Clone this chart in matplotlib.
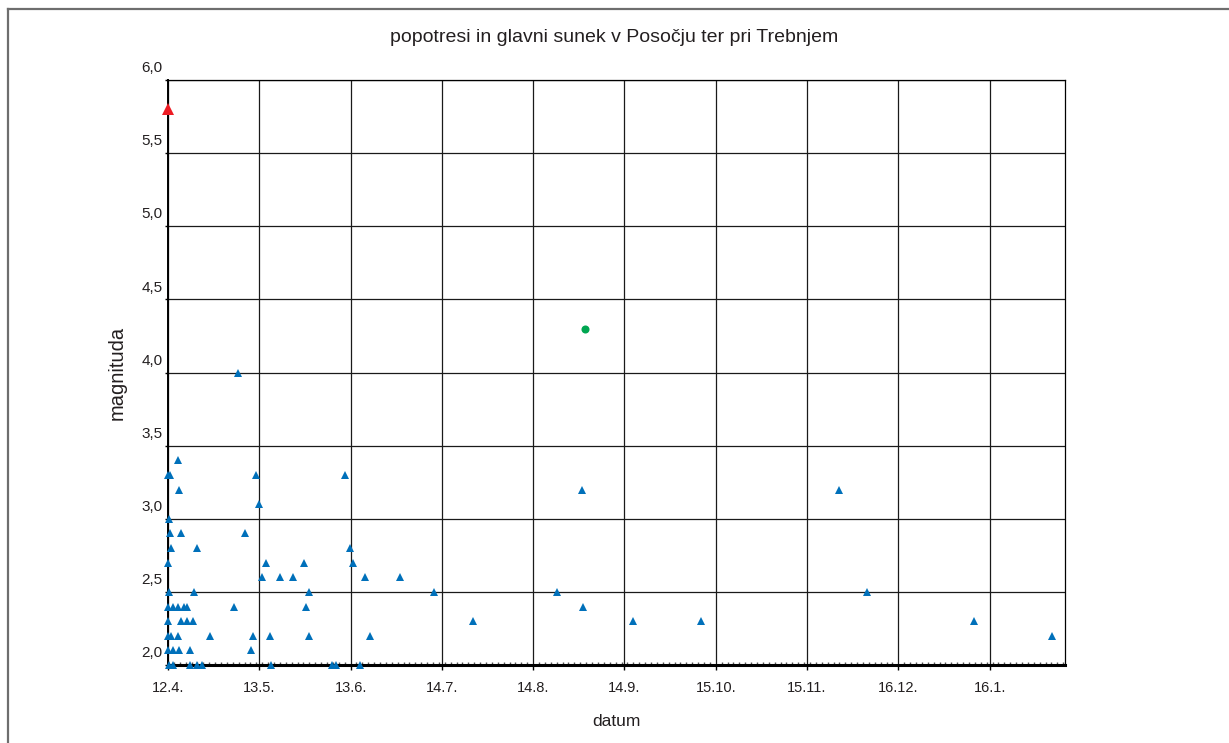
import matplotlib.pyplot as plt
import matplotlib.transforms as mtransforms
from matplotlib.lines import Line2D
from matplotlib.ticker import MultipleLocator

# ── Podatki ──────────────────────────────────────────────────────────────────
# x = dnevi od glavnega sunka (12.4.1998), y = magnituda
popotresi_dan = [
    23.9, 3.3, 0.1, 0.6, 29.9, 60.0, 3.6, 140.6, 227.7, 30.9, 0.2,
    0.7, 4.4, 26.1, 0.9, 10.0, 61.7, 0.1, 33.4, 46.3, 62.8,
    31.9, 38.0, 42.6, 66.9, 78.8,
    0.3, 8.9, 47.9, 90.4, 132.0, 237.5,
    0.1, 1.6, 3.5, 5.5, 6.3, 22.3, 47.0, 140.9,
    0.1, 4.4, 6.6, 8.6, 103.5, 158.0, 181.0, 273.6,
    0.0, 1.1, 3.5, 14.4, 28.8, 34.5, 47.9, 68.7, 300.2,
    0.1, 1.6, 3.7, 7.5, 28.3,
    0.2, 1.8, 7.5, 9.7, 11.6, 35.0, 55.8, 57.1, 65.2,
]
popotresi_mag = [
    4.0, 3.4, 3.3, 3.3, 3.3, 3.3, 3.2, 3.2, 3.2, 3.1, 3.0,
    2.9, 2.9, 2.9, 2.8, 2.8, 2.8, 2.7, 2.7, 2.7, 2.7,
    2.6, 2.6, 2.6, 2.6, 2.6,
    2.5, 2.5, 2.5, 2.5, 2.5, 2.5,
    2.4, 2.4, 2.4, 2.4, 2.4, 2.4, 2.4, 2.4,
    2.3, 2.3, 2.3, 2.3, 2.3, 2.3, 2.3, 2.3,
    2.2, 2.2, 2.2, 2.2, 2.2, 2.2, 2.2, 2.2, 2.2,
    2.1, 2.1, 2.1, 2.1, 2.1,
    2.0, 2.0, 2.0, 2.0, 2.0, 2.0, 2.0, 2.0, 2.0,
]
glavni_dan = [0.0]
glavni_mag = [5.8]
trebnje_dan = [141.5]
trebnje_mag = [4.3]

x_ticks = [0, 31, 62, 93, 124, 155, 186, 217, 248, 279]
x_labels = ["12.4.", "13.5.", "13.6.", "14.7.", "14.8.", "14.9.",
            "15.10.", "15.11.", "16.12.", "16.1."]
y_ticks = [2.0, 2.5, 3.0, 3.5, 4.0, 4.5, 5.0, 5.5, 6.0]
y_labels = ["2,0", "2,5", "3,0", "3,5", "4,0", "4,5", "5,0", "5,5", "6,0"]

# ── Barve ────────────────────────────────────────────────────────────────────
BLUE = "#0070BA"
RED = "#ED1C24"
GREEN = "#00A651"
TEXT = "#231F20"

plt.rcParams["font.family"] = ["Liberation Sans", "DejaVu Sans"]

fig = plt.figure(figsize=(12.29, 7.43), dpi=100)
ax = fig.add_axes([168 / 1229, 1 - 665 / 743, (1065 - 168) / 1229, (665 - 80) / 743])

# okvir slike (levi in zgornji rob)
fig.add_artist(Line2D([8 / 1229, 8 / 1229], [0, 1 - 9 / 743], transform=fig.transFigure,
                      color="#6E6E6E", lw=1.6))
fig.add_artist(Line2D([8 / 1229, 1], [1 - 9 / 743, 1 - 9 / 743], transform=fig.transFigure,
                      color="#6E6E6E", lw=1.6))

# ── Točke ────────────────────────────────────────────────────────────────────
ax.plot(popotresi_dan, popotresi_mag, "^", color=BLUE, ms=5.6, mew=0, clip_on=False, zorder=4)
ax.plot(glavni_dan, glavni_mag, "^", color=RED, ms=8.2, mew=0, clip_on=False, zorder=5)
ax.plot(trebnje_dan, trebnje_mag, "o", color=GREEN, ms=5.8, mew=0, clip_on=False, zorder=5)

# ── Osi ──────────────────────────────────────────────────────────────────────
ax.set_xlim(0, 304.6)
ax.set_ylim(2.0, 6.0)
ax.set_xticks(x_ticks)
ax.set_xticklabels(x_labels, fontsize=10.5, color=TEXT)
ax.xaxis.set_minor_locator(MultipleLocator(2))
ax.tick_params(axis="x", which="major", direction="out", length=3.5, width=1, pad=8)
ax.tick_params(axis="x", which="minor", direction="in", length=2, width=1, color="#555555")
ax.set_yticks(y_ticks)
ax.set_yticklabels([])
ax.tick_params(axis="y", direction="out", length=2.5, width=1)

off = mtransforms.offset_copy(ax.get_yaxis_transform(), fig=fig, x=0, y=3.5, units="points")
for v, lab in zip(y_ticks, y_labels):
    ax.text(-0.006, v, lab, transform=off, ha="right", va="bottom", fontsize=11, color=TEXT)

ax.grid(True, color="#1A1A1A", lw=0.9)
ax.set_axisbelow(True)
for s in ["top", "right"]:
    ax.spines[s].set_linewidth(0.9)
ax.spines["left"].set_linewidth(1.4)
ax.spines["bottom"].set_linewidth(2.2)

ax.set_xlabel("datum", fontsize=12.5, color=TEXT, labelpad=14)
ax.set_ylabel("magnituda", fontsize=14.5, color=TEXT, labelpad=24)
fig.text(0.5, 1 - 38 / 743, "popotresi in glavni sunek v Posočju ter pri Trebnjem",
         ha="center", va="center", fontsize=14, color=TEXT)

plt.savefig("out.png", dpi=100, facecolor="white")
plt.close()
